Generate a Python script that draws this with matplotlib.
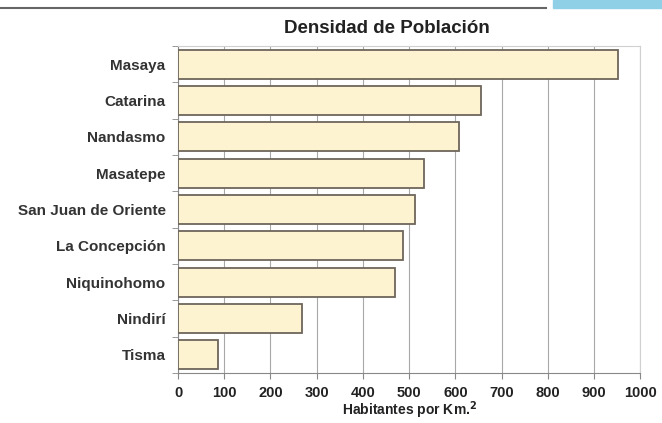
import matplotlib.pyplot as plt
import matplotlib.patches as mpatches
from matplotlib.lines import Line2D

# municipios, top to bottom
municipios = ["Masaya", "Catarina", "Nandasmo", "Masatepe", "San Juan de Oriente",
              "La Concepción", "Niquinohomo", "Nindirí", "Tisma"]
densidad = [952, 655, 609, 532, 513, 487, 470, 268, 86]
xticks = [0, 100, 200, 300, 400, 500, 600, 700, 800, 900, 1000]

plt.rcParams['font.family'] = ['Liberation Sans', 'DejaVu Sans']

fig = plt.figure(figsize=(6.62, 4.23), dpi=100)
ax = fig.add_axes([0.269, 0.118, 0.698, 0.773])

pos = list(range(len(municipios)))
ax.barh(pos, densidad, height=0.8, color='#fdf3d0', edgecolor='#6e665a', linewidth=1.3, zorder=3)

ax.set_ylim(len(municipios) - 0.5, -0.5)
ax.set_xlim(0, 1000)
ax.set_xticks(xticks)
ax.set_xticklabels([str(t) for t in xticks], fontsize=10.5, fontweight='bold', color='#222222')
ax.set_yticks(pos)
ax.set_yticklabels(municipios, fontsize=11, fontweight='bold', color='#333333')
ax.tick_params(axis='y', length=0, pad=9)
ax.tick_params(axis='x', length=4, color='#888888', pad=5)

# small ticks between bars on the left
ax.set_yticks([p + 0.5 for p in range(-1, len(municipios))], minor=True)
ax.tick_params(axis='y', which='minor', length=4, color='#888888')

ax.grid(axis='x', color='#a8a8a8', linewidth=0.8, zorder=0)
for side in ['top', 'right']:
    ax.spines[side].set_color('#d0d0d0')
for side in ['left', 'bottom']:
    ax.spines[side].set_color('#888888')

ax.set_xlabel("Habitantes por Km.$^{\\mathbf{2}}$", fontsize=10, fontweight='bold', labelpad=0, color='#222222')
fig.text(0.585, 0.932, "Densidad de Población", ha='center', va='center',
         fontsize=13.5, fontweight='bold', color='#222222')

# scan leftovers at top
fig.add_artist(Line2D([0.0, 0.825], [0.981, 0.981], color='#666666', linewidth=1.5))
fig.add_artist(mpatches.Rectangle((0.835, 0.981), 0.165, 0.019, color='#8fd0e6', transform=fig.transFigure))

fig.savefig("out.png", dpi=100)
